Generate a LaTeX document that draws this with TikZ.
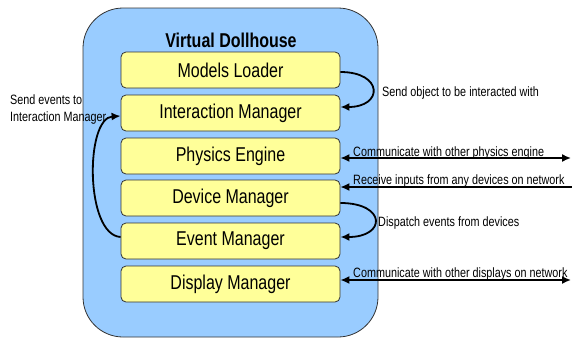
\documentclass[tikz,border=0pt]{standalone}
\usepackage{fontspec}
\setmainfont{Liberation Sans}[FakeStretch=0.8]
\usetikzlibrary{arrows.meta}
\definecolor{houseblue}{HTML}{99CCFF}
\definecolor{boxyellow}{HTML}{FFFF99}
\begin{document}
\begin{tikzpicture}[x=1pt,y=-1pt,
  house/.style={draw=black!80, fill=houseblue, rounded corners=40pt, line width=0.8pt,
    minimum width=295pt, minimum height=329pt, inner sep=0pt},
  module/.style={draw=black!80, fill=boxyellow, rounded corners=5pt, minimum width=219pt,
    minimum height=36pt, inner sep=0pt, font=\fontsize{20}{22}\selectfont, line width=0.8pt},
  titletext/.style={font=\bfseries\fontsize{20}{22}\selectfont, inner sep=0pt},
  lbl/.style={font=\fontsize{13.5}{17}\selectfont, inner sep=0pt},
  conn/.style={line width=1.8pt, -{Latex[length=9pt,width=8pt]}},
  link/.style={line width=1.6pt, {Latex[length=9pt,width=8pt]}-{Latex[length=9pt,width=8pt]}},
  feed/.style={line width=1.5pt, -{Latex[length=9pt,width=8pt]}}
]
\useasboundingbox (0,0) rectangle (572,340);
\node[house] (house) at (230.5,172.5) {};
\node[titletext] (title) at (231,40) {Virtual Dollhouse};
\node[module] (ml) at (230.5,70) {Models Loader};
\node[module] (im) at (230.5,113) {Interaction Manager};
\node[module] (pe) at (230.5,156) {Physics Engine};
\node[module] (dm) at (230.5,198) {Device Manager};
\node[module] (em) at (230.5,241) {Event Manager};
\node[module] (dp) at (230.5,284) {Display Manager};

\coordinate (peR) at (571,158);
\coordinate (dmR) at (572,187);
\coordinate (dpR) at (571,280);

\draw[conn] ([yshift=-2pt]ml.east) .. controls +(43,0) and +(43,0) .. ([yshift=6pt]im.east);
\draw[conn] ([yshift=-5pt]dm.east) .. controls +(46,0) and +(46,0) .. ([yshift=4pt]em.east);
\draw[conn] ([yshift=4pt]em.west) .. controls (85,235) and (85,118) .. ([yshift=-3pt]im.west);
\draw[link] ([yshift=-2pt]pe.east) -- (peR);
\draw[feed] (dmR) -- ([yshift=11pt]dm.east);
\draw[link] ([yshift=4pt]dp.east) -- (dpR);

\node[lbl, anchor=base west] (l1) at (382,96) {Send object to be interacted with};
\node[lbl, anchor=base west] (l2) at (353,156) {Communicate with other physics engine};
\node[lbl, anchor=base west] (l3) at (353,184) {Receive inputs from any devices on network};
\node[lbl, anchor=base west] (l4) at (378,226) {Dispatch events from devices};
\node[lbl, anchor=base west] (l5) at (353,277) {Communicate with other displays on network};
\node[lbl, anchor=west, align=left] (l6) at (10,110) {Send events to\\Interaction Manager};
\end{tikzpicture}
\end{document}
